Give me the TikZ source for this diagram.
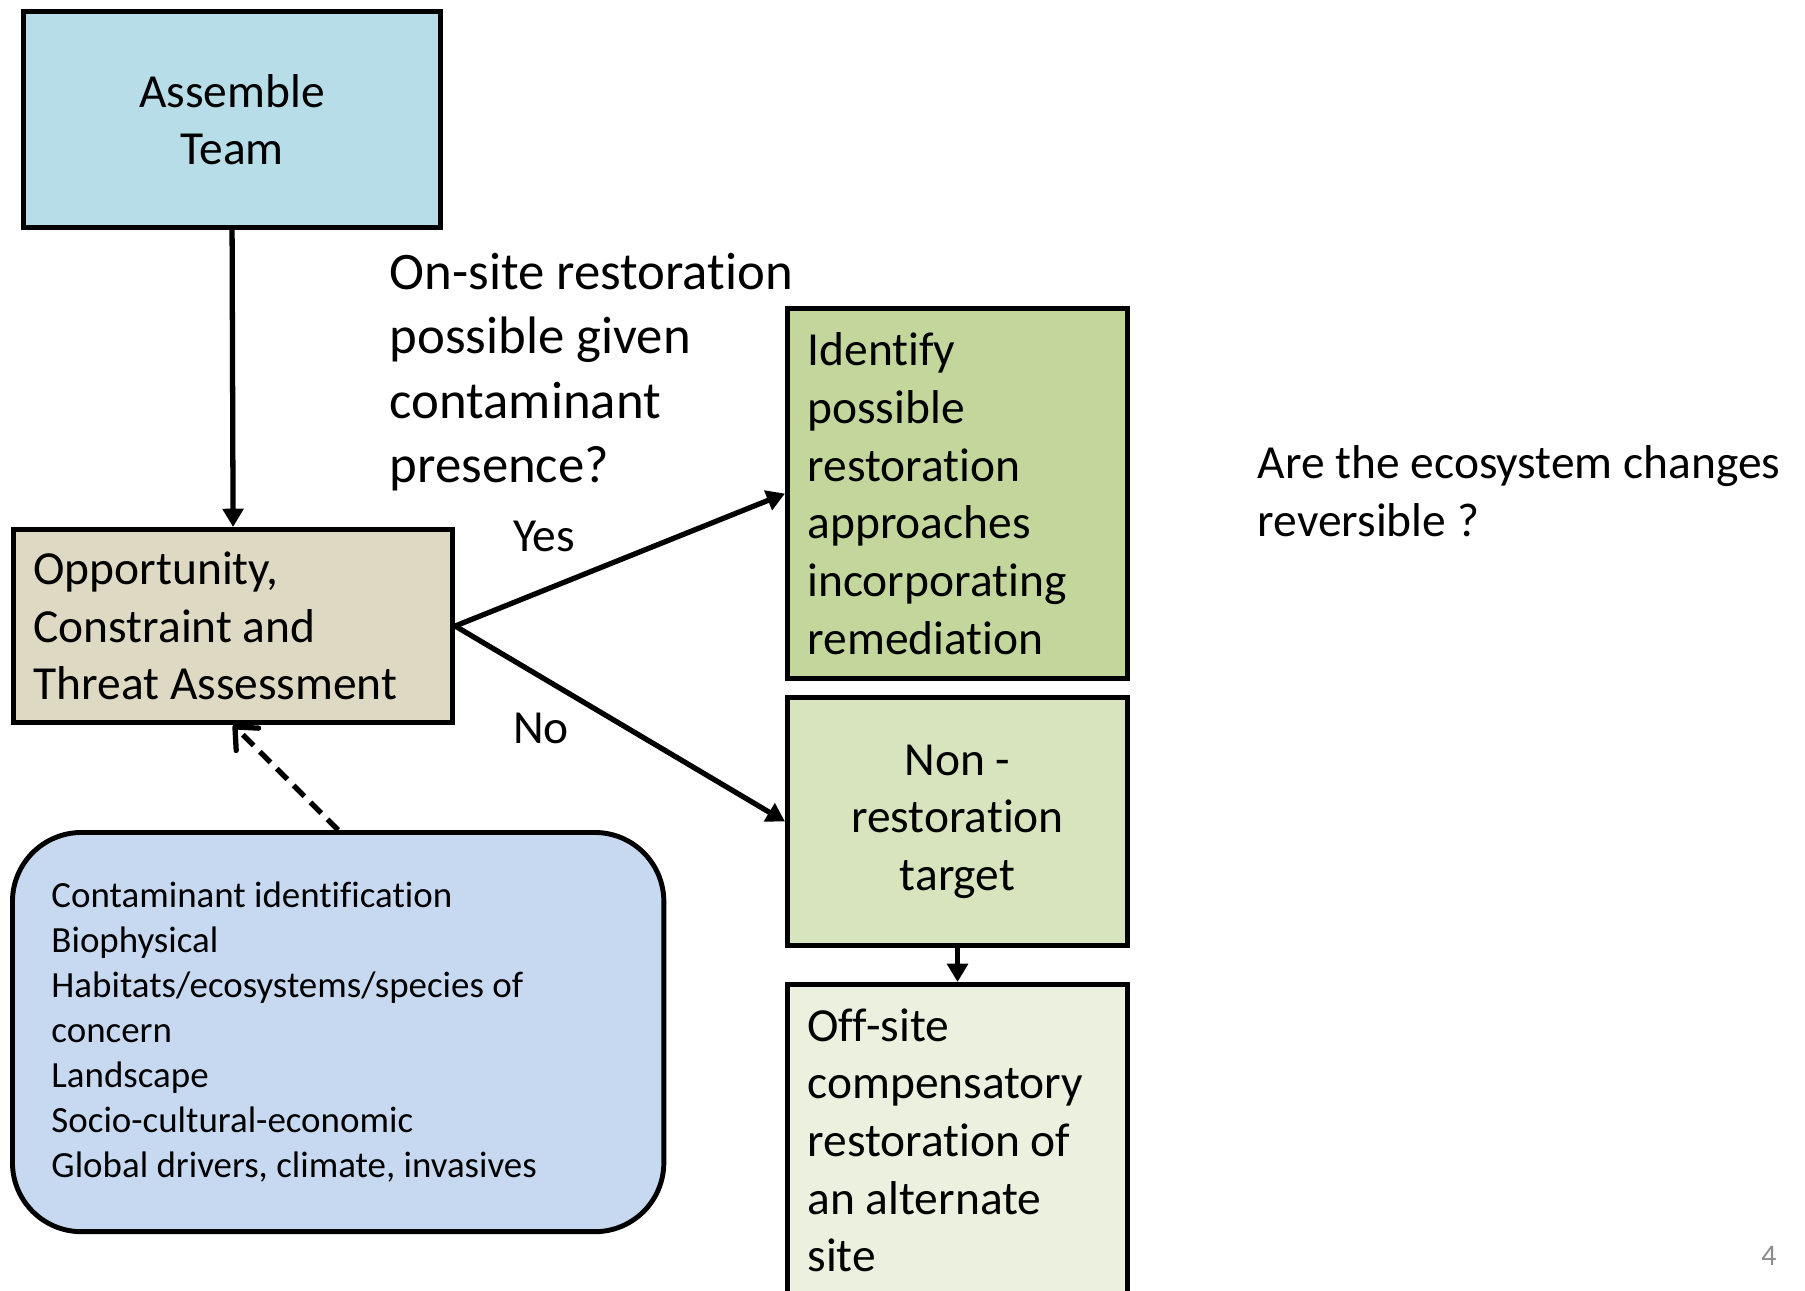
\documentclass[tikz,border=0pt]{standalone}
\usepackage{fontspec}
\setmainfont{Carlito}[Ligatures=NoCommon]
\usetikzlibrary{arrows.meta}
\definecolor{teamblue}{HTML}{B7DDE8}
\definecolor{assesstan}{HTML}{DDD9C3}
\definecolor{identgreen}{HTML}{C3D69B}
\definecolor{nongreen}{HTML}{D7E4BD}
\definecolor{offgreen}{HTML}{EBF1DE}
\definecolor{factorblue}{HTML}{C6D9F1}
\definecolor{pagegray}{HTML}{8C8C8C}
\tikzset{
    box/.style={
        rectangle,
        draw,
        line width=1.4pt,
        anchor=north west,
        inner xsep=0.2cm,
        inner ysep=0pt,
        font=\fontsize{13.5}{16.4}\selectfont
    },
    listbox/.style={
        box,
        rounded corners=0.69cm,
        inner xsep=0.39cm,
        font=\fontsize{10.5}{12.8}\selectfont
    },
    caption/.style={
        inner sep=0pt,
        align=left,
        font=\fontsize{13.5}{16.4}\selectfont
    },
    flow/.style={
        -{Triangle[length=5.2pt,width=5.8pt]},
        line width=1.5pt
    },
    feedback/.style={
        -{Straight Barb[length=5pt,width=9pt,line cap=round,line join=round]},
        line width=1.5pt,
        dash pattern=on 4.3pt off 2.5pt
    }
}

\begin{document}
\begin{tikzpicture}[x=0.01cm,y=-0.01cm]
\useasboundingbox (0,0) rectangle (1805,1290);
\node[box,fill=teamblue,minimum width=4.17cm,minimum height=2.16cm,align=center] (team) at (21,9) {Assemble\\Team};
\node[box,fill=assesstan,minimum width=4.39cm,minimum height=1.93cm,text width=3.99cm,align=flush left] (assess) at (11,527) {Opportunity,\\Constraint and\\Threat Assessment};
\node[box,fill=identgreen,minimum width=3.4cm,minimum height=3.7cm,text width=3.0cm,align=flush left] (ident) at (785,306) {Identify\\possible\\restoration\\approaches\\incorporating\\remediation};
\node[box,fill=nongreen,minimum width=3.4cm,minimum height=2.48cm,text width=3.0cm,align=flush center] (nonrest) at (785,695) {Non -\\restoration\\target};
\node[box,fill=offgreen,minimum width=3.4cm,text width=3.0cm,align=flush left,inner ysep=0.24cm,text depth=3.2cm] (offsite) at (785,982) {Off-site\\compensatory\\restoration of\\an alternate\\site};
\node[listbox,fill=factorblue,minimum width=6.51cm,minimum height=3.99cm,text width=5.73cm,align=flush left] (factors) at (10,830) {Contaminant identification\\Biophysical\\Habitats/ecosystems/species of\\concern\\Landscape\\Socio-cultural-economic\\Global drivers, climate, invasives};
\node[caption,anchor=west,font=\fontsize{15}{18.35}\selectfont] (ask) at (389,372) {On-site restoration\\possible given\\contaminant\\presence?};
\node[caption] (yes) at (544,536) {Yes};
\node[caption] (no) at (541,728) {No};
\node[caption,anchor=west] (reverse) at (1257,491) {Are the ecosystem changes\\reversible ?};
\node[caption,text=pagegray,font=\fontsize{8.5}{10}\selectfont] (page) at (1769,1256) {4};
\path[flow]
  (team.south) edge (assess.north)
  (assess.east) edge (ident.west)
  (assess.east) edge (nonrest.west)
  (nonrest.south) edge (offsite.north);
\path[feedback]
  (factors.north) edge (assess.south);
\end{tikzpicture}
\end{document}
